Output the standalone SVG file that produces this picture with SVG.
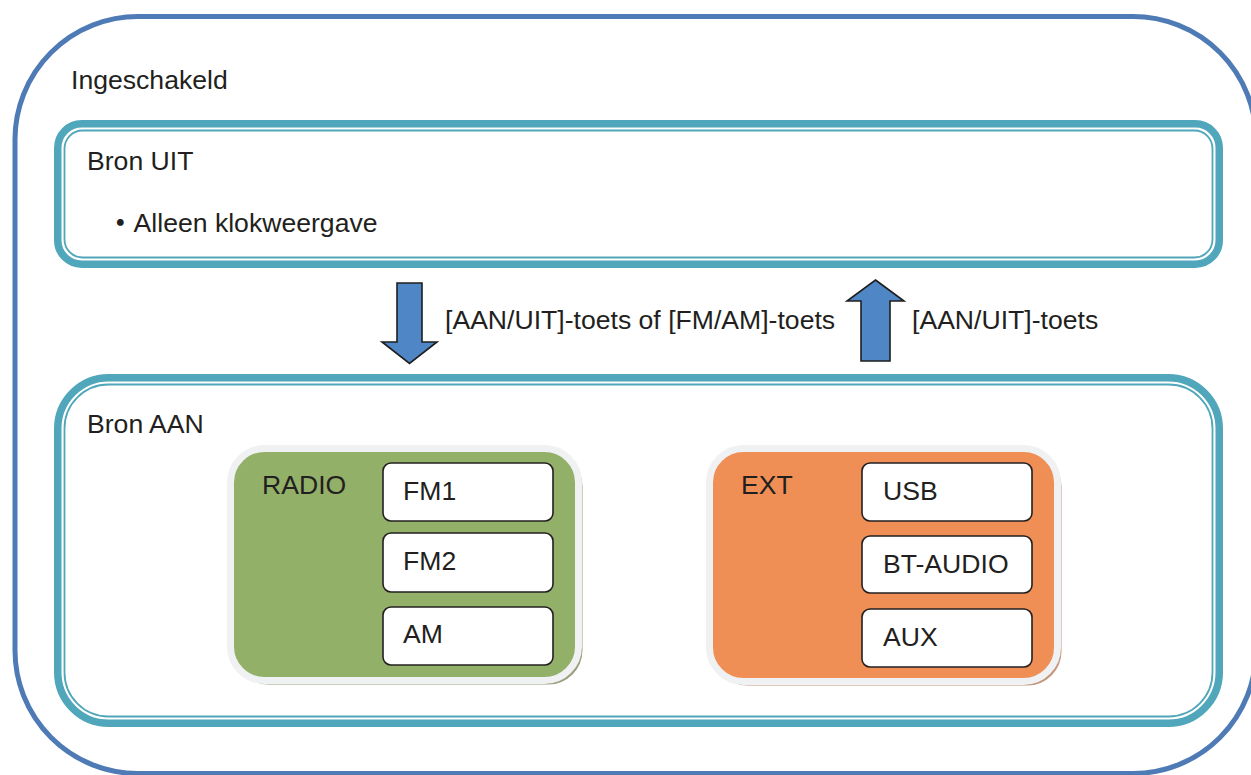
<svg xmlns="http://www.w3.org/2000/svg" width="1251" height="775" viewBox="0 0 1251 775">
<style>
text{font-family:"Liberation Sans",Arial,"Noto Sans CJK JP",sans-serif;font-size:26.6px;fill:#231f20}
.outer{fill:none;stroke:#4e7bb5;stroke-width:5}
.teal{fill:#fff;stroke:#50a6ba;stroke-width:7.5}
.tealthin{fill:none;stroke:#50a6ba;stroke-width:1.8}
.item{fill:#fff;stroke:#231f20;stroke-width:1.6}
.arrow{fill:#4f86c6;stroke:#1e1e1e;stroke-width:1.6;stroke-linejoin:miter}
.frame{stroke:#eff1f3;stroke-width:7}
</style>
<rect width="1251" height="775" fill="#fff"/>
<g id="ingeschakeld">
<rect class="outer" x="15" y="16.5" width="1241" height="757" rx="123"/>
<text x="71" y="89">Ingeschakeld</text>
</g>
<g id="bron-uit">
<rect class="teal" x="57.75" y="123.75" width="1161.5" height="140.5" rx="24"/>
<rect class="tealthin" x="64.5" y="130.5" width="1148" height="127" rx="18"/>
<text x="87" y="170">Bron UIT</text>
<text x="107" y="232"><tspan font-family="Noto Sans CJK JP, sans-serif" font-weight="bold">・</tspan>Alleen klokweergave</text>
</g>
<g id="connectors">
<polygon class="arrow" points="397,283 422,283 422,342 437,342 409.5,363.5 382,342 397,342"/>
<text x="445" y="329">[AAN/UIT]-toets of [FM/AM]-toets</text>
<polygon class="arrow" points="875.5,280 904,301 890,301 890,361 861,361 861,301 847,301"/>
<text x="912" y="329">[AAN/UIT]-toets</text>
</g>
<g id="bron-aan">
<rect class="teal" x="57.75" y="377.75" width="1161.5" height="345.5" rx="51"/>
<rect class="tealthin" x="64.5" y="384.5" width="1148" height="332" rx="44"/>
<text x="87" y="433">Bron AAN</text>
</g>
<g id="radio">
<rect x="234.5" y="452.5" width="348" height="232" rx="34" fill="#9a9e7c"/>
<rect class="frame" x="230.5" y="448.5" width="348" height="232" rx="34" fill="#93b068"/>
<text x="262" y="494">RADIO</text>
</g>
<g id="fm1"><rect class="item" x="383" y="463" width="170" height="58" rx="8"/><text x="403" y="500">FM1</text></g>
<g id="fm2"><rect class="item" x="383" y="533" width="170" height="59" rx="8"/><text x="403" y="570">FM2</text></g>
<g id="am"><rect class="item" x="383" y="607" width="170" height="58" rx="8"/><text x="403" y="643">AM</text></g>
<g id="ext">
<rect x="713.5" y="452.5" width="348" height="233" rx="34" fill="#c4957b"/>
<rect class="frame" x="709.5" y="448.5" width="348" height="233" rx="34" fill="#ef8f55"/>
<text x="741" y="494">EXT</text>
</g>
<g id="usb"><rect class="item" x="862" y="463" width="170" height="58" rx="8"/><text x="883" y="500">USB</text></g>
<g id="bt-audio"><rect class="item" x="862" y="536" width="170" height="57" rx="8"/><text x="883" y="573">BT-AUDIO</text></g>
<g id="aux"><rect class="item" x="862" y="609" width="170" height="58" rx="8"/><text x="883" y="646">AUX</text></g>
</svg>
